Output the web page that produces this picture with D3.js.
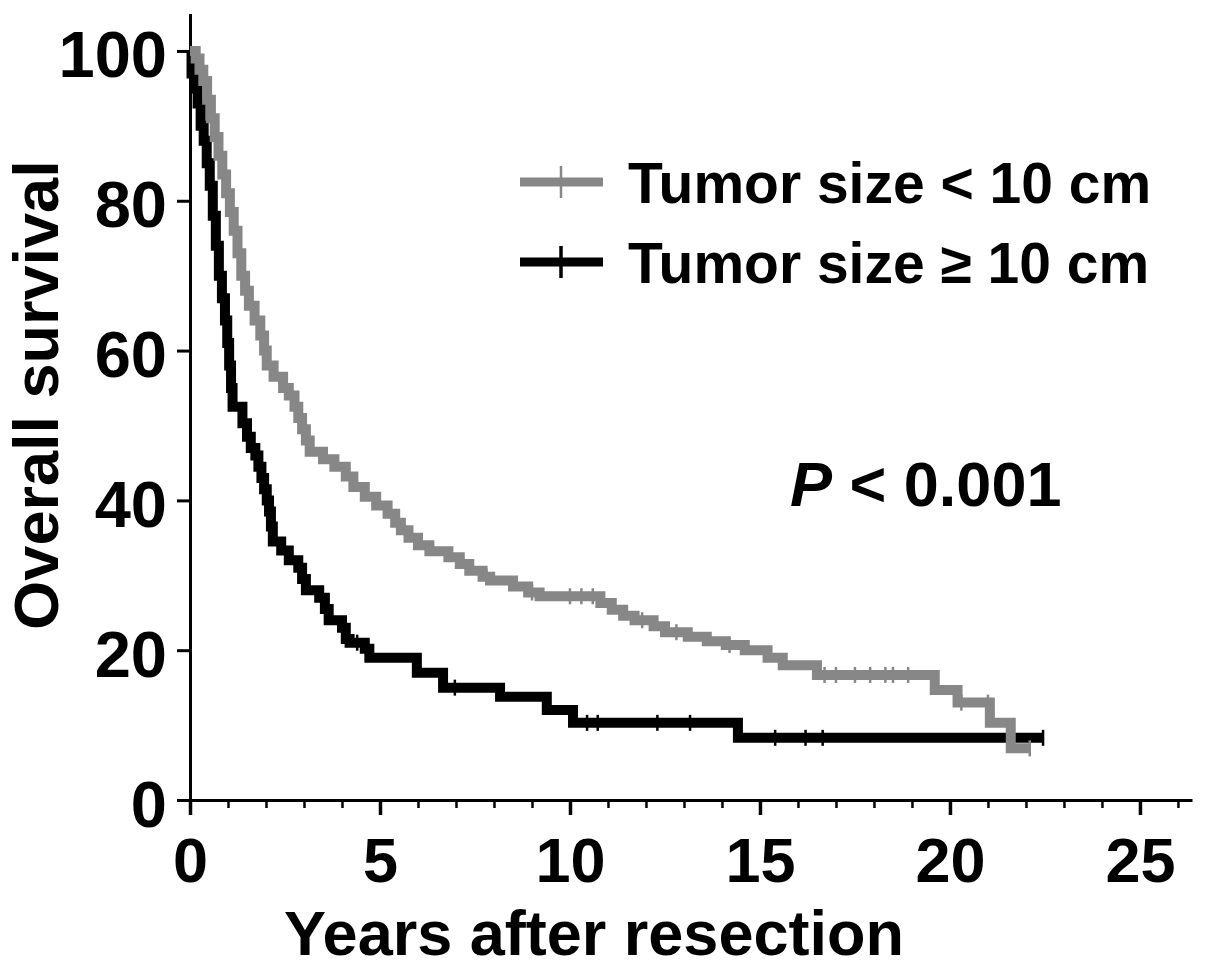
<!DOCTYPE html>
<html>
<head>
<meta charset="utf-8">
<script src="https://cdn.jsdelivr.net/npm/d3@7"></script>
<style>
  body { margin: 0; background: #fff; }
  svg text { font-family: "Liberation Sans", Arial, Helvetica, sans-serif; font-weight: bold; fill: #000; }
</style>
</head>
<body>
<div id="chart-container"></div>
<script>
// Kaplan-Meier steps (years, % surviving)
const smallTimes = [0, 0.15, 0.25, 0.35, 0.45, 0.55, 0.65, 0.75, 0.85, 0.95, 1.05, 1.15, 1.25, 1.35, 1.45, 1.55, 1.7, 1.85, 1.95, 2.02,
  2.2, 2.45, 2.6, 2.75, 2.85, 2.95, 3.05, 3.15, 3.5, 3.8, 4.1, 4.3, 4.6, 4.9, 5.2, 5.4, 5.55, 5.75, 6.0, 6.3,
  6.8, 7.1, 7.35, 7.7, 7.9, 8.5, 8.9, 9.2, 10.8, 11.1, 11.4, 11.7, 12.2, 12.5, 13.1, 13.6, 14.1, 14.6, 15.2, 15.6,
  16.5, 19.6, 20.2, 21.05, 21.6];
const smallSurv = [100, 99, 97.5, 96, 93.5, 91, 88.5, 86, 83.5, 81, 78.5, 76, 73, 70, 68, 66, 64, 62, 60, 58,
  56.5, 55, 54, 52.5, 51, 49.5, 48, 46.5, 45.5, 44.5, 43.2, 41.8, 40.5, 39.3, 38.2, 37, 36, 35, 34, 33.2,
  32.4, 31.5, 30.6, 29.8, 29.3, 28.5, 27.7, 27.2, 26.3, 25.4, 24.6, 24, 23.2, 22.4, 21.8, 21.2, 20.7, 20, 19, 18,
  16.7, 14.7, 13, 10.3, 6.9];
const smallEnd = 22.1;
const smallCensored = [7.8, 9.0, 10.0, 10.3, 10.6, 11.9, 12.8, 14.2, 16.7, 17.0, 17.5, 17.9, 18.3, 18.5, 18.9, 20.3, 21.0, 22.1];

const largeTimes = [0, 0.04, 0.12, 0.2, 0.28, 0.36, 0.44, 0.52, 0.6, 0.68, 0.76, 0.84, 0.92, 0.98, 1.03, 1.08, 1.12, 1.38, 1.5, 1.6,
  1.72, 1.8, 1.88, 1.95, 2.02, 2.08, 2.13, 2.18, 2.4, 2.6, 2.85, 2.95, 3.05, 3.4, 3.55, 3.65, 4.0, 4.1, 4.2, 4.6,
  4.72, 5.97, 6.66, 8.16, 9.39, 10.08, 14.42];
const largeSurv = [100, 97, 95, 93, 90, 88, 85, 82, 78, 74, 70, 67, 64, 61, 58, 55, 52.5, 50.3, 48.5, 47,
  46, 44.5, 43, 41.5, 40, 38.5, 36.5, 34.5, 33.3, 32, 31, 29.5, 28, 27, 25.5, 24, 23, 21.5, 21, 20.2,
  19, 17, 15, 13.8, 12, 10.3, 8.3];
const largeEnd = 22.45;
const largeCensored = [4.4, 6.97, 10.45, 10.73, 12.3, 13.16, 15.4, 16.2, 16.65, 22.45];

const legendLabels = ['Tumor size < 10 cm', 'Tumor size \u2265 10 cm'];
const seriesColors = ['#878787', '#000000'];
const xMajorTicks = [0, 5, 10, 15, 20, 25];
const xMinorTicks = d3.range(0, 27);
const yTicks = [0, 20, 40, 60, 80, 100];

const svgCanvas = {width: 1205, height: 969};
const plot = {left: 190, right: 1192, top: 13.5, bottom: 800};

const svg = d3.select('#chart-container')
  .append('svg')
  .attr('width', svgCanvas.width)
  .attr('height', svgCanvas.height);

const xScale = d3.scaleLinear().domain([0, 26.37]).range([plot.left, plot.right]);
const yScale = d3.scaleLinear().domain([0, 105]).range([plot.bottom, plot.top]);

// minor x ticks
svg.append('g')
  .attr('transform', `translate(0,${plot.bottom})`)
  .call(d3.axisBottom(xScale).tickValues(xMinorTicks).tickSize(8).tickSizeOuter(0).tickFormat(''))
  .call(g => g.select('.domain').remove())
  .call(g => g.selectAll('line').attr('stroke-width', 2.5));

// x axis
svg.append('g')
  .attr('transform', `translate(0,${plot.bottom})`)
  .call(d3.axisBottom(xScale).tickValues(xMajorTicks).tickSize(15).tickSizeOuter(0).tickPadding(22))
  .call(g => g.select('.domain').attr('stroke-width', 3))
  .call(g => g.selectAll('line').attr('stroke-width', 3.5))
  .call(g => g.selectAll('text').attr('font-size', 63));

// y axis
svg.append('g')
  .attr('transform', `translate(${plot.left},0)`)
  .call(d3.axisLeft(yScale).tickValues(yTicks).tickSize(13).tickSizeOuter(0).tickPadding(10))
  .call(g => g.select('.domain').attr('stroke-width', 3))
  .call(g => g.selectAll('line').attr('stroke-width', 3))
  .call(g => g.selectAll('text').attr('font-size', 65).attr('dy', '0.4em'));

svg.append('text')
  .attr('transform', 'translate(58,395) rotate(-90)')
  .attr('text-anchor', 'middle')
  .attr('font-size', 63)
  .text('Overall survival');

svg.append('text')
  .attr('x', 594)
  .attr('y', 955)
  .attr('text-anchor', 'middle')
  .attr('font-size', 63)
  .text('Years after resection');

const pText = svg.append('text')
  .attr('x', 790)
  .attr('y', 506)
  .attr('font-size', 63);
pText.append('tspan').attr('font-style', 'italic').text('P');
pText.append('tspan').text(' < 0.001');

// curves
const stepLine = d3.line()
  .x(d => xScale(d[0]))
  .y(d => yScale(d[1]))
  .curve(d3.curveStepAfter);

function survivalAt(times, surv, t) {
  const i = d3.bisectRight(times, t) - 1;
  return surv[Math.max(0, i)];
}

const series = [
  {times: largeTimes, surv: largeSurv, end: largeEnd, cens: largeCensored, color: seriesColors[1]},
  {times: smallTimes, surv: smallSurv, end: smallEnd, cens: smallCensored, color: seriesColors[0]}
];

series.forEach(s => {
  const pts = s.times.map((t, i) => [t, s.surv[i]]);
  pts.push([s.end, s.surv[s.surv.length - 1]]);
  svg.append('path')
    .attr('d', stepLine(pts))
    .attr('fill', 'none')
    .attr('stroke', s.color)
    .attr('stroke-width', 10)
    .attr('stroke-linejoin', 'miter');
  svg.append('g').selectAll('line')
    .data(s.cens)
    .enter()
    .append('line')
    .attr('x1', d => xScale(d))
    .attr('x2', d => xScale(d))
    .attr('y1', d => yScale(survivalAt(s.times, s.surv, d)) - 8)
    .attr('y2', d => yScale(survivalAt(s.times, s.surv, d)) + 8)
    .attr('stroke', s.color)
    .attr('stroke-width', 2.5);
});

// legend
const legend = svg.append('g').selectAll('g')
  .data(legendLabels)
  .enter()
  .append('g')
  .attr('transform', (d, i) => `translate(0,${182 + i * 80})`);
legend.append('line')
  .attr('x1', 520).attr('x2', 603)
  .attr('y1', 0).attr('y2', 0)
  .attr('stroke', (d, i) => seriesColors[i])
  .attr('stroke-width', 9);
legend.append('line')
  .attr('x1', 561).attr('x2', 561)
  .attr('y1', -16).attr('y2', 16)
  .attr('stroke', (d, i) => seriesColors[i])
  .attr('stroke-width', (d, i) => i === 0 ? 2.5 : 3.5);
legend.append('text')
  .attr('x', 628)
  .attr('y', 21)
  .attr('font-size', 57)
  .text(d => d);
</script>
</body>
</html>
